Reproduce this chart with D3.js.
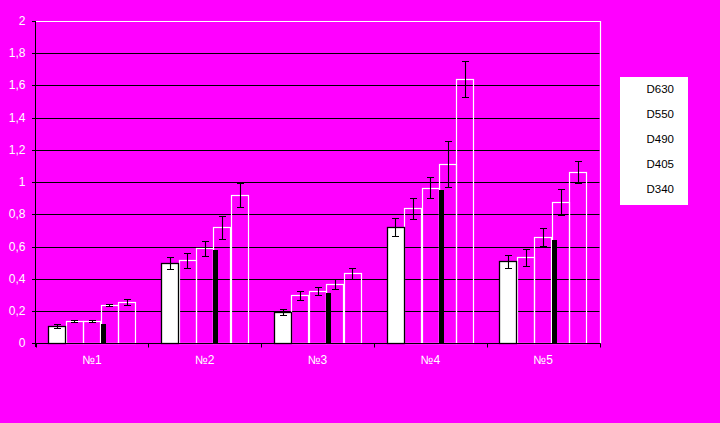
<!DOCTYPE html>
<html>
<head>
<meta charset="utf-8">
<script src="https://cdn.jsdelivr.net/npm/d3@7"></script>
<style>
html,body{margin:0;padding:0;background:#FF00FF;}
svg{display:block;}
text{font-family:"Liberation Sans",Arial,sans-serif;}
</style>
</head>
<body>
<svg id="chart" width="720" height="423"></svg>
<script>
const categories = ["№1","№2","№3","№4","№5"];
const seriesNames = ["D630","D550","D490","D405","D340"];
const D630 = [0.107, 0.497, 0.196, 0.720, 0.509];
const D550 = [0.138, 0.515, 0.298, 0.838, 0.534];
const D490 = [0.138, 0.590, 0.323, 0.964, 0.658];
const D405 = [0.238, 0.720, 0.370, 1.111, 0.875];
const D340 = [0.256, 0.919, 0.434, 1.639, 1.061];
const err630 = [0.010, 0.037, 0.019, 0.056, 0.040];
const err550 = [0.006, 0.047, 0.028, 0.065, 0.053];
const err490 = [0.006, 0.047, 0.025, 0.065, 0.056];
const err405 = [0.007, 0.071, 0.030, 0.143, 0.080];
const err340 = [0.019, 0.075, 0.032, 0.112, 0.068];
const blackMark = [0.122, 0.579, 0.312, 0.952, 0.641];
const yTicks = [0,0.2,0.4,0.6,0.8,1,1.2,1.4,1.6,1.8,2];
const yTickLabels = ["0","0,2","0,4","0,6","0,8","1","1,2","1,4","1,6","1,8","2"];

const values = [D630, D550, D490, D405, D340];
const errs = [err630, err550, err490, err405, err340];

const svg = d3.select("#chart");
const pLeft = 35.5, pRight = 599.5, pTop = 21, pBottom = 343.3;

const x0 = d3.scaleBand().domain(categories).range([pLeft, pRight]).padding(0);
const x1 = d3.scaleBand().domain(seriesNames).range([0, x0.bandwidth()]).paddingInner(0).paddingOuter(0.73);
const y = d3.scaleLinear().domain([0, 2]).range([pBottom, pTop]);
const px = v => Math.round(v) + 0.5;

// gridlines (excluding 0 and 2)
svg.append("g").selectAll("line").data(yTicks.filter(t => t > 0 && t < 2)).join("line")
  .attr("x1", 32).attr("x2", pRight)
  .attr("y1", d => px(y(d))).attr("y2", d => px(y(d)))
  .attr("stroke", "#000").attr("stroke-width", 1);

// plot border top and right (white)
svg.append("path")
  .attr("d", `M${pLeft},${px(y(2))}H${px(pRight)}V${px(pBottom)}`)
  .attr("fill", "none").attr("stroke", "#fff").attr("stroke-width", 1.2);

// bars (reverse order so D630 is on top)
const barG = svg.append("g");
for (let s = seriesNames.length - 1; s >= 0; s--) {
  barG.append("g").selectAll("rect").data(values[s]).join("rect")
    .attr("x", (d, i) => px(x0(categories[i]) + x1(seriesNames[s])))
    .attr("y", d => px(y(d)))
    .attr("width", Math.round(x1.bandwidth()))
    .attr("height", d => px(y(0)) - px(y(d)))
    .attr("fill", s === 0 ? "#fff" : "none")
    .attr("stroke", s === 0 ? "#000" : "#fff")
    .attr("stroke-width", s === 0 ? 1.3 : 1.2);
}

// black narrow marks
svg.append("g").selectAll("rect").data(blackMark).join("rect")
  .attr("x", (d, i) => Math.round(x0(categories[i]) + x1("D405")))
  .attr("y", d => Math.round(y(d)))
  .attr("width", 5)
  .attr("height", d => Math.round(y(0)) - Math.round(y(d)))
  .attr("fill", "#000");

// error bars
const errG = svg.append("g").attr("stroke", "#000").attr("stroke-width", 1.1).attr("fill", "none");
for (let s = 0; s < seriesNames.length; s++) {
  values[s].forEach((v, i) => {
    const cx = px(x0(categories[i]) + x1(seriesNames[s]) + x1.bandwidth() / 2);
    const y1 = px(y(v + errs[s][i])), y2 = px(y(v - errs[s][i]));
    errG.append("path").attr("d", `M${cx},${y1}V${y2}M${cx-3.5},${y1}H${cx+3.5}M${cx-3.5},${y2}H${cx+3.5}`);
  });
}

// y axis
const yAxis = svg.append("g");
yAxis.append("line").attr("x1", pLeft).attr("x2", pLeft).attr("y1", pTop).attr("y2", px(pBottom) + 3.5)
  .attr("stroke", "#000").attr("stroke-width", 1);
yAxis.selectAll("line.tick").data(yTicks).join("line").attr("class", "tick")
  .attr("x1", 32).attr("x2", pLeft).attr("y1", d => px(y(d))).attr("y2", d => px(y(d)))
  .attr("stroke", "#000");
yAxis.selectAll("text").data(yTicks).join("text")
  .attr("x", 25.5).attr("y", d => y(d) + 4)
  .attr("text-anchor", "end").attr("fill", "#fff").attr("font-size", 12)
  .text((d, i) => yTickLabels[i]);

// x axis
const xAxis = svg.append("g");
xAxis.append("line").attr("x1", pLeft).attr("x2", pRight + 1).attr("y1", px(pBottom)).attr("y2", px(pBottom))
  .attr("stroke", "#000").attr("stroke-width", 1);
const bounds = categories.map(c => x0(c)).concat([pRight]);
xAxis.selectAll("line.tick").data(bounds).join("line").attr("class", "tick")
  .attr("x1", d => px(d)).attr("x2", d => px(d)).attr("y1", px(pBottom)).attr("y2", px(pBottom) + 4)
  .attr("stroke", "#000");
xAxis.selectAll("text").data(categories).join("text")
  .attr("x", d => x0(d) + x0.bandwidth() / 2).attr("y", 364)
  .attr("text-anchor", "middle").attr("fill", "#fff").attr("font-size", 12)
  .text(d => d);

// legend
const lg = svg.append("g");
lg.append("rect").attr("x", 620).attr("y", 77).attr("width", 68).attr("height", 128).attr("fill", "#fff");
lg.selectAll("text").data(seriesNames).join("text")
  .attr("x", 646.5).attr("y", (d, i) => 92.5 + i * 25)
  .attr("fill", "#000").attr("font-size", 11.5)
  .text(d => d);
</script>
</body>
</html>
